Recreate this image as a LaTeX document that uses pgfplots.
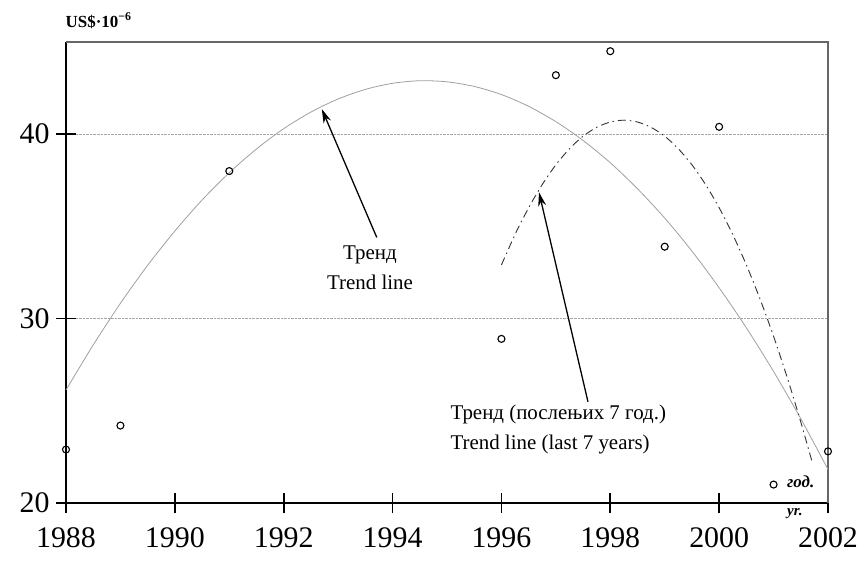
\documentclass[border=0pt]{standalone}
\usepackage{fontspec}
\setmainfont{Liberation Serif}
\newfontfamily\srfont[Script=Cyrillic,Language=Serbian]{Liberation Serif}
\usepackage{pgfplots}
\pgfplotsset{compat=1.18}
\usetikzlibrary{arrows.meta}
\begin{document}
\begin{tikzpicture}
\begin{axis}[
  scale only axis, width=762bp, height=461bp,
  xmin=1988, xmax=2002, ymin=20, ymax=45,
  clip=false,
  axis lines=left,
  axis line style={-, black, line width=1.6pt},
  xtick={1988,1990,...,2002},
  ytick={20,30,40},
  tick align=center,
  major tick length=20bp,
  tick style={black, line width=1.6pt},
  /pgf/number format/assume math mode=true,
  /pgf/number format/1000 sep={},
  tick label style={font=\fontsize{30}{30}\selectfont},
  xticklabel style={yshift=-11bp},
  yticklabel style={xshift=-3bp},
  ymajorgrids,
  grid style={gray!70, densely dotted, line width=0.6pt},
]
% frame top and right
\draw[gray!80!black, line width=1.4pt] (rel axis cs:0,1) -- (rel axis cs:1,1) -- (rel axis cs:1,0);
% trend line (all years)
\addplot[gray!75, line width=0.8pt, smooth] coordinates {
(1988,26.13)(1988.5,28.57)(1989,30.83)(1989.5,32.89)(1990,34.75)(1990.5,36.43)
(1991,37.91)(1991.5,39.20)(1992,40.30)(1992.5,41.20)(1993,41.91)(1993.5,42.43)
(1994,42.76)(1994.5,42.90)(1995,42.84)(1995.5,42.59)(1996,42.15)(1996.5,41.51)
(1997,40.68)(1997.5,39.66)(1998,38.45)(1998.5,37.04)(1999,35.45)(1999.5,33.66)
(2000,31.67)(2000.5,29.50)(2001,27.13)(2001.5,24.57)(2002,21.82)};
% trend line (last 7 years)
\addplot[black!80, line width=0.9pt, smooth, dash pattern=on 8bp off 4bp on 1.5bp off 4bp] coordinates {
(1996,32.91)(1996.25,34.56)(1996.5,36.01)(1996.75,37.27)(1997,38.34)(1997.25,39.21)
(1997.5,39.89)(1997.75,40.37)(1998,40.66)(1998.25,40.76)(1998.5,40.66)(1998.75,40.37)
(1999,39.89)(1999.25,39.21)(1999.5,38.34)(1999.75,37.27)(2000,36.01)(2000.25,34.56)
(2000.5,32.91)(2000.75,31.07)(2001,29.04)(2001.25,26.81)(2001.5,24.39)(2001.7,22.31)};
% data
\addplot[only marks, mark=o, mark size=3.5bp, black, mark options={line width=1.1pt, fill=white}] coordinates {
(1988,22.9)(1989,24.2)(1991,38.0)(1996,28.9)(1997,43.2)(1998,44.5)(1999,33.9)(2000,40.4)(2001,21.0)(2002,22.8)};
% arrows
\draw[-{Stealth[length=14bp,width=8bp]}, line width=1.3pt] (axis cs:1993.71,34.4) -- (axis cs:1992.70,41.36);
\draw[-{Stealth[length=14bp,width=8bp]}, line width=1.3pt] (axis cs:1997.59,25.49) -- (axis cs:1996.69,36.85);
% texts
\node[align=center, font=\fontsize{21}{30}\selectfont] at (axis cs:1993.585,32.78) {Тренд\\Trend line};
\node[align=left, anchor=west, font=\fontsize{21}{30}\selectfont] at (axis cs:1995.0,23.97) {Тренд (послењих 7 год.)\\Trend line (last 7 years)};
\node[font=\fontsize{17}{17}\selectfont\srfont\bfseries\itshape] at (axis cs:2001.5,21.14) {год.};
\node[font=\fontsize{15}{15}\selectfont\bfseries\itshape] at (axis cs:2001.39,19.45) {yr.};
\node[anchor=west, font=\fontsize{17}{17}\selectfont\bfseries] at (axis cs:1987.93,46.15) {US\$\textperiodcentered10\textsuperscript{−6}};
\end{axis}
\pgfresetboundingbox
\useasboundingbox (-66bp,-60bp) rectangle (799bp,503bp);
\end{tikzpicture}
\end{document}
